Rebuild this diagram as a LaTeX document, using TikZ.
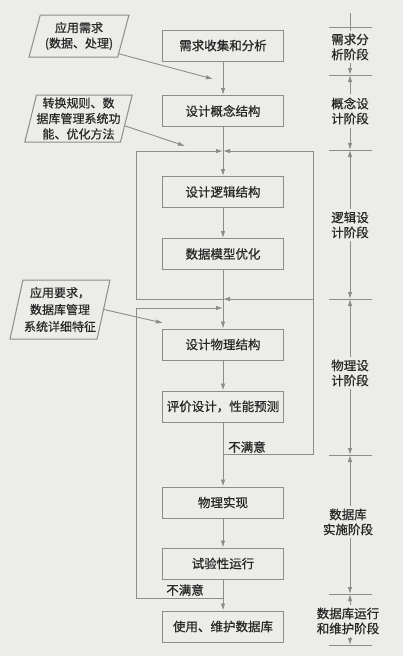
\documentclass[tikz,border=0pt]{standalone}
\usepackage{fontspec}
\setmainfont{Noto Sans CJK SC}[FakeBold=0.7]
\usetikzlibrary{arrows.meta,shapes.geometric}
\definecolor{bgcol}{RGB}{236,236,233}
\definecolor{lncol}{RGB}{140,140,140}
\definecolor{txcol}{RGB}{40,40,40}
\newcommand\fsz{\fontsize{12.5pt}{15pt}\selectfont}
\newcommand\fsp{\fontsize{12pt}{15.5pt}\selectfont}
\tikzset{
  box/.style={draw=lncol, line width=1pt, minimum width=121pt, minimum height=31pt, inner sep=0pt, text=txcol, font=\fsz},
  para/.style={draw=lncol, line width=1pt, trapezium, trapezium stretches body, inner sep=0pt, text=txcol, font=\fsp, align=center},
  arr/.style={draw=lncol, line width=0.9pt, -{Latex[length=7pt,width=4.5pt]}},
  plain/.style={draw=lncol, line width=0.9pt},
  stage/.style={text=txcol, font=\fsz, align=center, inner sep=3pt},
  note/.style={text=txcol, font=\fsz, inner sep=1pt},
}
\begin{document}
\begin{tikzpicture}[x=1pt,y=-1pt]
\fill[bgcol] (0,0) rectangle (403,656);
\useasboundingbox (0,0) rectangle (403,656);

% main column
\node[box] (b1) at (223,45.5) {需求收集和分析};
\node[box] (b2) at (223,111) {设计概念结构};
\node[box] (b3) at (223,192) {设计逻辑结构};
\node[box] (b4) at (223,254) {数据模型优化};
\node[box] (b5) at (223,344.5) {设计物理结构};
\node[box] (b6) at (223,406.5) {评价设计，性能预测};
\node[box] (b7) at (223,502.5) {物理实现};
\node[box] (b8) at (223,563.5) {试验性运行};
\node[box] (b9) at (223,626.5) {使用、维护数据库};

% inputs
\node[para, minimum width=100pt, minimum height=42pt, trapezium left angle=68, trapezium right angle=112] (p1) at (79,36) {应用需求\\(数据、处理)};
\node[para, minimum width=107pt, minimum height=47pt, trapezium left angle=74.5, trapezium right angle=105.5] (p2) at (78.5,118.5) {转换规则、数\\据库管理系统功\\能、优化方法};
\node[para, minimum width=100pt, minimum height=59pt, trapezium left angle=74, trapezium right angle=106, font=\fontsize{12pt}{17pt}\selectfont] (p3) at (60,309.5) {应用要求，\\数据库管理\\系统详细特征};

\coordinate (a1) at (213,79);
\coordinate (a2) at (185,146);
\coordinate (a3) at (163,323);
\draw[arr] (p1.-24) -- (a1);
\draw[arr] (p2.-9) -- (a2);
\draw[arr] (p3.0) -- (a3);

% main flow
\draw[arr] (b1) -- (b2);
\draw[arr] (b2) -- (b3);
\draw[arr] (b3) -- (b4);
\draw[arr] (b4) -- (b5);
\draw[arr] (b5) -- (b6);
\draw[arr] (b6) -- (b7);
\draw[arr] (b7) -- (b8);
\draw[arr] (b8) -- (b9);

% feedback loops
\coordinate (c151) at (223,151);
\coordinate (c299) at (223,299);
\coordinate (c308) at (223,308);
\coordinate (c454) at (223,454);
\coordinate (c598) at (223,598);
\coordinate (r151) at (313,151);
\coordinate (r299) at (313,299);
\coordinate (r454) at (313,454);
\coordinate (l151) at (136,151);
\coordinate (l299) at (136,299);
\coordinate (l308) at (136,308);
\coordinate (l598) at (136,598);
\draw[arr] (c454) -- (r454) -- (r151) -- (c151);
\draw[arr] (r299) -- (c299);
\draw[arr] (c299) -- (l299) -- (l151) -- (c151);
\draw[arr] (c598) -- (l598) -- (l308) -- (c308);
\node[note, anchor=south west] (n1) at (227,454) {不满意};
\node[note, anchor=south east] (n2) at (205,597) {不满意};

% stage ruler
\foreach \i/\y in {1/27,2/75,3/150,4/299,5/455,6/594,7/645}{
  \coordinate (t\i) at (350,\y);
  \coordinate (tl\i) at (329,\y);
  \coordinate (tr\i) at (372,\y);
  \draw[plain] (tl\i) -- (tr\i);
}
\coordinate (top) at (350,13);
\node[stage] (s1) at (350,47) {需求分\\析阶段};
\node[stage] (s2) at (350,111) {概念设\\计阶段};
\node[stage] (s3) at (350,225) {逻辑设\\计阶段};
\node[stage] (s4) at (350,373) {物理设\\计阶段};
\node[stage] (s5) at (348,522) {数据库\\实施阶段};
\node[stage] (s6) at (348,621) {数据库运行\\和维护阶段};
\draw[plain] (top) -- (s1);
\draw[arr] (s1) -- (t2);
\draw[arr] (s2) -- (t2);
\draw[arr] (s2) -- (t3);
\draw[arr] (s3) -- (t3);
\draw[arr] (s3) -- (t4);
\draw[arr] (s4) -- (t4);
\draw[arr] (s4) -- (t5);
\draw[arr] (s5.north -| t5) -- (t5);
\draw[arr] (s5.south -| t6) -- (t6);
\draw[arr] (s6.north -| t6) -- (t6);
\draw[arr] (s6.south -| t7) -- (t7);
\end{tikzpicture}
\end{document}
